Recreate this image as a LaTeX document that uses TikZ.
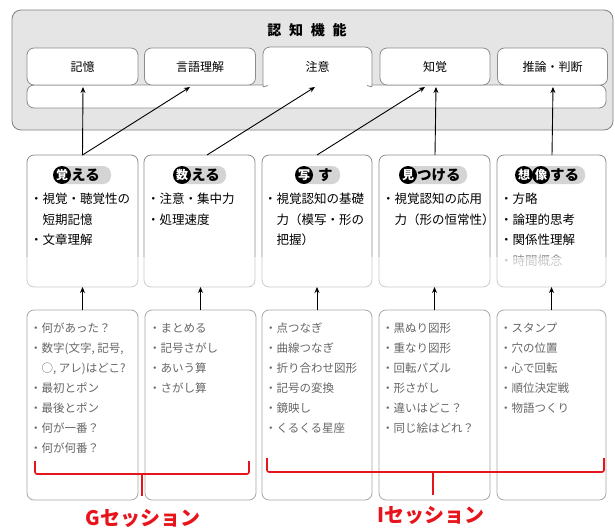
\documentclass[tikz,border=0pt]{standalone}
\usepackage{fontspec}
\setmainfont{Noto Sans CJK JP}
\usetikzlibrary{arrows.meta,calc}
\definecolor{redc}{HTML}{E8141C}
\definecolor{hlcol}{HTML}{D4D4D4}
\begin{document}
\begin{tikzpicture}[x=1pt,y=-1pt,
  box/.style={draw=black!45, line width=0.8pt, rounded corners=7pt, fill=white, inner sep=0pt, outer sep=0pt},
  lab/.style={font=\fontsize{12}{14}\selectfont, inner sep=0pt},
  mtxt/.style={font=\fontsize{12.5}{20.5}\selectfont, align=left, anchor=north west, inner sep=0pt},
  btxt/.style={font=\fontsize{11.5}{20}\selectfont, align=left, anchor=north west, inner sep=0pt, text=black!60},
  hdtxt/.style={font=\bfseries\fontsize{14.5}{16}\selectfont, inner sep=0pt, anchor=west},
  hdcirc/.style={circle, fill=black, text=white, font=\bfseries\fontsize{12}{12}\selectfont, inner sep=0pt, minimum size=18pt},
  arr/.style={-{Stealth[length=6pt,width=5pt]}, line width=0.9pt, black},
  br/.style={redc, line width=1.6pt, rounded corners=2pt},
  sess/.style={text=redc, font=\bfseries\fontsize{20}{22}\selectfont, inner sep=0pt}]
\useasboundingbox (0,0) rectangle (615,531);

% outer gray panel
\node[draw=black!50, fill=black!10, rounded corners=9pt, line width=0.8pt,
      minimum width=601pt, minimum height=120pt, inner sep=0pt] (outer) at (312.5,70) {};
\node[font=\bfseries\fontsize{14}{16}\selectfont, inner sep=0pt] (title) at (307,30)
  {認\hspace{0.55em}知\hspace{0.55em}機\hspace{0.55em}能};

% lower bar
\node[box, minimum width=579pt, minimum height=23pt] (bar) at (316.5,96.5) {};
% top boxes
\node[box, minimum width=111pt, minimum height=37pt] (kioku) at (82.5,66.5) {};
\node[lab] at (kioku) {記憶};
\node[box, minimum width=111pt, minimum height=37pt] (gengo) at (200,66.5) {};
\node[lab] at (gengo) {言語理解};
\fill[white, rounded corners=7pt] (263,90) -- (263,47) -- (372,47) -- (372,90) -- cycle;
\draw[black!45, line width=0.8pt, rounded corners=7pt] (263,86) -- (263,47) -- (372,47) -- (372,86);
\draw[black!45, line width=0.8pt] (263,86) to[out=-90,in=180] (268,85.5);
\draw[black!45, line width=0.8pt] (372,86) to[out=-90,in=0] (367,85.5);
\coordinate (chuic) at (317.5,66.5);
\node[lab] (chui) at (chuic) {注意};
\node[box, minimum width=110pt, minimum height=37pt] (chikaku) at (435,66.5) {};
\node[lab] at (chikaku) {知覚};
\node[box, minimum width=110pt, minimum height=37pt] (suiron) at (552.5,66.5) {};
\node[lab] at (suiron) {推論・判断};

% middle boxes
\node[box, minimum width=111pt, minimum height=132pt] (m1) at (82.5,221) {};
\node[box, minimum width=111pt, minimum height=132pt] (m2) at (199.5,221) {};
\node[box, minimum width=110pt, minimum height=132pt] (m3) at (317,221) {};
\node[box, minimum width=111pt, minimum height=132pt] (m4) at (434.5,221) {};
\node[box, minimum width=109pt, minimum height=132pt] (m5) at (551.5,221) {};

% headings
\fill[hlcol, rounded corners=8pt] (60,166) rectangle (111,184);
\node[hdcirc] (h1c) at (62,175) {覚};
\node[hdtxt] (h1t) at (71,175.5) {える};
\fill[hlcol, rounded corners=8pt] (180,166) rectangle (226,184);
\node[hdcirc] (h2c) at (182,175) {数};
\node[hdtxt] (h2t) at (191,175.5) {える};
\fill[hlcol, rounded corners=8pt] (302,166) rectangle (340,184);
\node[hdcirc] (h3c) at (304,175) {写};
\node[hdtxt] (h3t) at (318,175.5) {す};
\fill[hlcol, rounded corners=8pt] (406,166) rectangle (467,184);
\node[hdcirc] (h4c) at (408,175) {見};
\node[hdtxt] (h4t) at (417,175.5) {つける};
\fill[hlcol, rounded corners=8pt] (522,166) rectangle (585,184);
\node[hdcirc] (h5c) at (524,175) {想};
\node[hdcirc] (h5d) at (541,175) {像};
\node[hdtxt] (h5t) at (550,175.5) {する};

% middle texts
\node[mtxt] (t1) at (30,193) {・視覚・聴覚性の\\　短期記憶\\・文章理解};
\node[mtxt] (t2) at (147,193) {・注意・集中力\\・処理速度};
\node[mtxt] (t3) at (264,193) {・視覚認知の基礎\\　力（模写・形の\\　把握）};
\node[mtxt] (t4) at (382,193) {・視覚認知の応用\\　力（形の恒常性）};
\node[mtxt] (t5) at (500,193) {・方略\\・論理的思考\\・関係性理解\\{\color{black!45}・時間概念}};

% fade of middle box bottoms
\fill[white, opacity=0.55] (20,257) rectangle (612,292);

% bottom boxes
\node[box, draw=black!35, minimum width=111pt, minimum height=190pt] (b1) at (82.5,405) {};
\node[box, draw=black!35, minimum width=111pt, minimum height=190pt] (b2) at (200.5,405) {};
\node[box, draw=black!35, minimum width=110pt, minimum height=190pt] (b3) at (317,405) {};
\node[box, draw=black!35, minimum width=111pt, minimum height=190pt] (b4) at (434.5,405) {};
\node[box, draw=black!35, minimum width=109pt, minimum height=190pt] (b5) at (551.5,405) {};

\node[btxt] (u1) at (30,323) {・何があった？\\・数字(文字, 記号,\\　○, アレ)はどこ?\\・最初とポン\\・最後とポン\\・何が一番？\\・何が何番？};
\node[btxt] (u2) at (149,323) {・まとめる\\・記号さがし\\・あいう算\\・さがし算};
\node[btxt] (u3) at (265,323) {・点つなぎ\\・曲線つなぎ\\・折り合わせ図形\\・記号の変換\\・鏡映し\\・くるくる星座};
\node[btxt] (u4) at (382,323) {・黒ぬり図形\\・重なり図形\\・回転パズル\\・形さがし\\・違いはどこ？\\・同じ絵はどれ？};
\node[btxt] (u5) at (500,323) {・スタンプ\\・穴の位置\\・心で回転\\・順位決定戦\\・物語つくり};

% arrows bottom -> middle
\draw[arr] (b1.north) -- (m1.south);
\draw[arr] (b2.north) -- ($(m2.south)+(1,0)$);
\draw[arr] (b3.north) -- (m3.south);
\draw[arr] (b4.north) -- (m4.south);
\draw[arr] (b5.north) -- (m5.south);

% arrows middle -> top
\coordinate (s1) at (82.5,155);
\coordinate (s2) at (207,155);
\coordinate (s3) at (317,155);
\coordinate (s4) at (435,155);
\coordinate (s5) at (552,155);
\coordinate (e1) at (83,87);
\coordinate (e2) at (190,87);
\coordinate (e3) at (315,87);
\coordinate (e4) at (425,87);
\coordinate (e5) at (436,87);
\coordinate (e6) at (553,87);
\draw[arr] (s1) -- (e1);
\draw[arr] (s1) -- (e2);
\draw[arr] (s2) -- (e3);
\draw[arr] (s3) -- (e4);
\draw[arr] (s4) -- (e5);
\draw[arr] (s5) -- (e6);

% red brackets
\draw[br] (35,461) -- (35,474) -- (249,474) -- (249,461);
\draw[br] (142,474) -- (142,496);
\draw[br] (267,458) -- (267,472) -- (604,472) -- (604,458);
\draw[br] (433,472) -- (433,495);
\node[sess] (gs) at (143,518) {Gセッション};
\node[sess] (is) at (431,515) {Iセッション};
\end{tikzpicture}
\end{document}
